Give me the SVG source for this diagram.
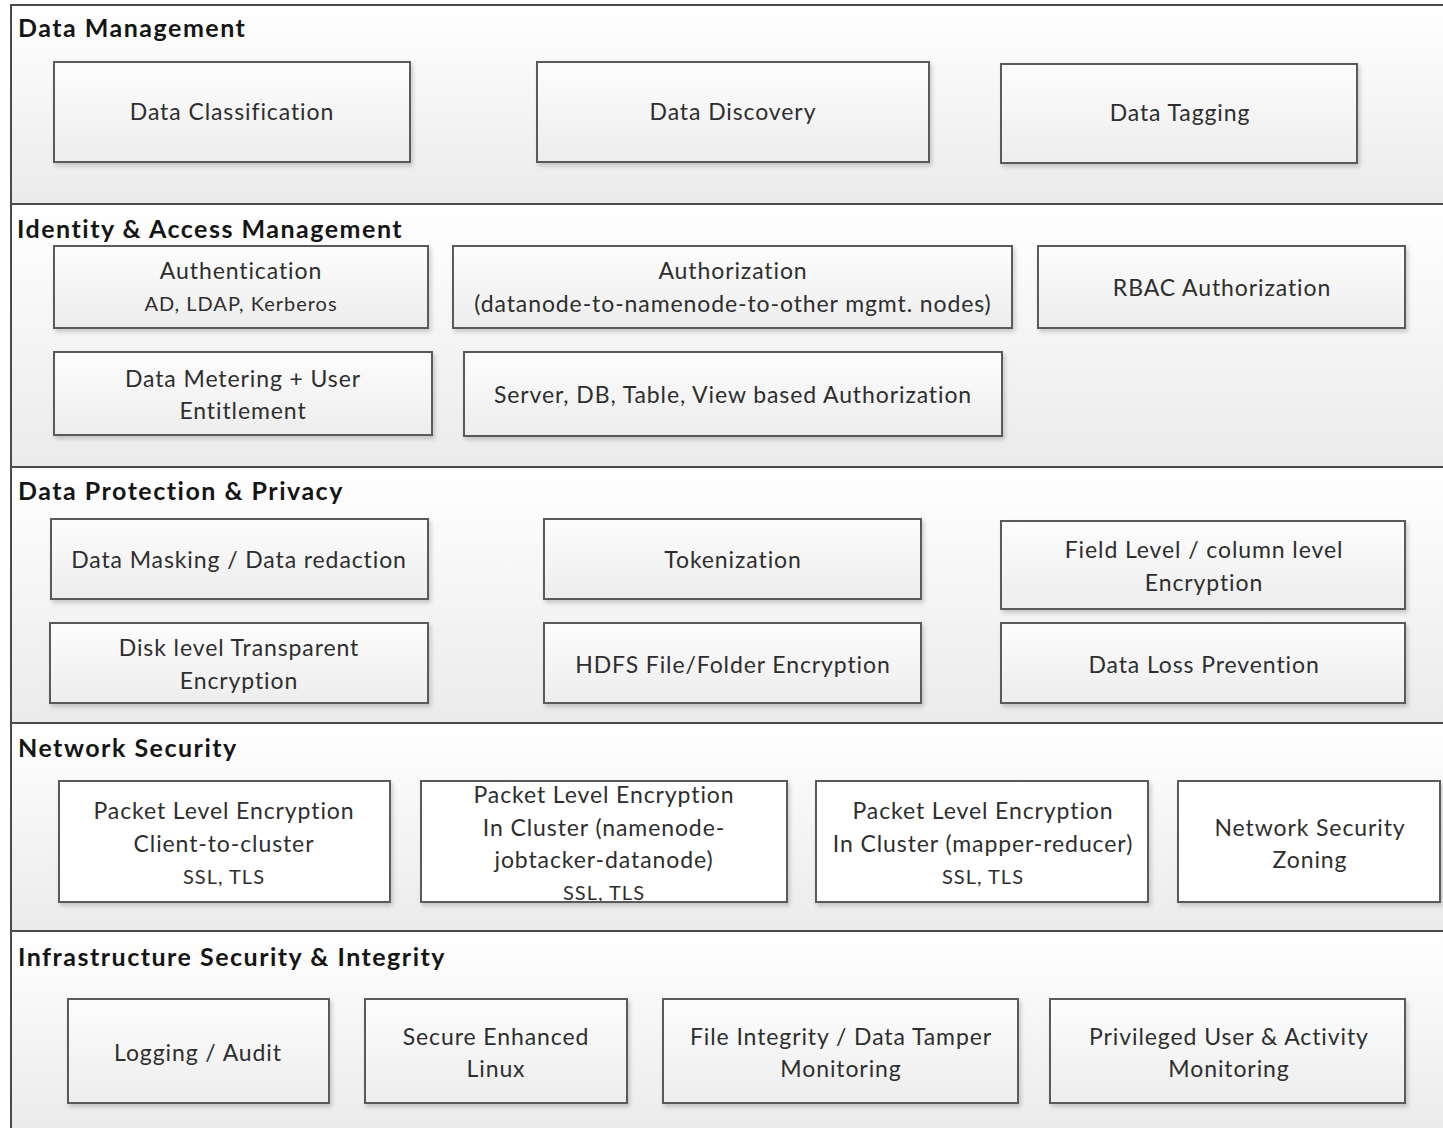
<svg xmlns="http://www.w3.org/2000/svg" width="1443" height="1128" viewBox="0 0 1443 1128">
<defs>
<linearGradient id="sec" x1="0" y1="0" x2="0" y2="1">
<stop offset="0" stop-color="#ffffff"/>
<stop offset="1" stop-color="#ebebeb"/>
</linearGradient>
<linearGradient id="box" x1="0" y1="0" x2="0" y2="1">
<stop offset="0" stop-color="#fdfdfd"/>
<stop offset="1" stop-color="#ededed"/>
</linearGradient>
<filter id="sh" x="-5%" y="-10%" width="115%" height="130%">
<feDropShadow dx="2" dy="3" stdDeviation="2" flood-color="#000" flood-opacity="0.18"/>
</filter>
<clipPath id="c4"><rect x="421" y="781" width="366" height="121"/></clipPath>
</defs>
<style>
.sec{fill:url(#sec);stroke:none}
.div{stroke:#4a4a4a;stroke-width:2;fill:none}
.b{fill:url(#box);stroke:#5a5a5a;stroke-width:2;filter:url(#sh)}
.w{fill:#ffffff;stroke:#5a5a5a;stroke-width:2;filter:url(#sh)}
.h{font-family:Lato,"Open Sans",sans-serif;font-weight:bold;font-size:25px;letter-spacing:1.5px;fill:#151515}
.t{font-family:Lato,"Open Sans",sans-serif;font-size:23px;letter-spacing:0.9px;fill:#2e2e2e;text-anchor:middle}
.s{font-family:Lato,"Open Sans",sans-serif;font-size:20px;letter-spacing:1px;fill:#2e2e2e;text-anchor:middle}
</style>
<rect width="1443" height="1128" fill="#ffffff"/>
<g id="sections">
<rect class="sec" x="11" y="5" width="1440" height="199"/>
<rect class="sec" x="11" y="204" width="1440" height="263"/>
<rect class="sec" x="11" y="467" width="1440" height="256"/>
<rect class="sec" x="11" y="723" width="1440" height="208"/>
<rect class="sec" x="11" y="931" width="1440" height="200"/>
<path class="div" d="M11,1130 V5 H1445 M11,204 H1445 M11,467 H1445 M11,723 H1445 M11,931 H1445"/>
<text class="h" x="18" y="37">Data Management</text>
<text class="h" x="17" y="238">Identity &amp; Access Management</text>
<text class="h" x="18" y="500">Data Protection &amp; Privacy</text>
<text class="h" x="18" y="757">Network Security</text>
<text class="h" x="18" y="966">Infrastructure Security &amp; Integrity</text>
</g>
<g id="connectors"></g>

<g id="n-data-classification"><rect class="b" x="54" y="62" width="356" height="100"/><text class="t" x="232" y="120">Data Classification</text></g>
<g id="n-data-discovery"><rect class="b" x="537" y="62" width="392" height="100"/><text class="t" x="733" y="120">Data Discovery</text></g>
<g id="n-data-tagging"><rect class="b" x="1001" y="64" width="356" height="99"/><text class="t" x="1180" y="121">Data Tagging</text></g>

<g id="n-authentication"><rect class="b" x="54" y="246" width="374" height="82"/><text class="t" x="241" y="279">Authentication</text><text class="s" x="241" y="311">AD, LDAP, Kerberos</text></g>
<g id="n-authorization"><rect class="b" x="453" y="246" width="559" height="82"/><text class="t" x="733" y="279">Authorization</text><text class="t" x="733" y="312">(datanode-to-namenode-to-other mgmt. nodes)</text></g>
<g id="n-rbac"><rect class="b" x="1038" y="246" width="367" height="82"/><text class="t" x="1222" y="296">RBAC Authorization</text></g>
<g id="n-metering"><rect class="b" x="54" y="352" width="378" height="83"/><text class="t" x="243" y="387">Data Metering + User</text><text class="t" x="243" y="419">Entitlement</text></g>
<g id="n-server-db"><rect class="b" x="464" y="352" width="538" height="84"/><text class="t" x="733" y="403">Server, DB, Table, View based Authorization</text></g>

<g id="n-masking"><rect class="b" x="51" y="519" width="377" height="80"/><text class="t" x="239" y="568">Data Masking / Data redaction</text></g>
<g id="n-tokenization"><rect class="b" x="544" y="519" width="377" height="80"/><text class="t" x="733" y="568">Tokenization</text></g>
<g id="n-field-level"><rect class="b" x="1001" y="521" width="404" height="88"/><text class="t" x="1204" y="558">Field Level / column level</text><text class="t" x="1204" y="591">Encryption</text></g>
<g id="n-disk-level"><rect class="b" x="50" y="623" width="378" height="80"/><text class="t" x="239" y="656">Disk level Transparent</text><text class="t" x="239" y="689">Encryption</text></g>
<g id="n-hdfs"><rect class="b" x="544" y="623" width="377" height="80"/><text class="t" x="733" y="673">HDFS File/Folder Encryption</text></g>
<g id="n-dlp"><rect class="b" x="1001" y="623" width="404" height="80"/><text class="t" x="1204" y="673">Data Loss Prevention</text></g>

<g id="n-packet-client"><rect class="w" x="59" y="781" width="331" height="121"/><text class="t" x="224" y="819">Packet Level Encryption</text><text class="t" x="224" y="852">Client-to-cluster</text><text class="s" x="224" y="884">SSL, TLS</text></g>
<g id="n-packet-namenode"><rect class="w" x="421" y="781" width="366" height="121"/><g clip-path="url(#c4)"><text class="t" x="604" y="803">Packet Level Encryption</text><text class="t" x="604" y="836">In Cluster (namenode-</text><text class="t" x="604" y="868">jobtacker-datanode)</text><text class="s" x="604" y="900">SSL, TLS</text></g><rect x="421" y="781" width="366" height="121" fill="none" stroke="#5a5a5a" stroke-width="2"/></g>
<g id="n-packet-mapper"><rect class="w" x="816" y="781" width="332" height="121"/><text class="t" x="983" y="819">Packet Level Encryption</text><text class="t" x="983" y="852">In Cluster (mapper-reducer)</text><text class="s" x="983" y="884">SSL, TLS</text></g>
<g id="n-zoning"><rect class="w" x="1178" y="781" width="262" height="121"/><text class="t" x="1310" y="836">Network Security</text><text class="t" x="1310" y="868">Zoning</text></g>

<g id="n-logging"><rect class="b" x="68" y="999" width="261" height="104"/><text class="t" x="198" y="1061">Logging / Audit</text></g>
<g id="n-selinux"><rect class="b" x="365" y="999" width="262" height="104"/><text class="t" x="496" y="1045">Secure Enhanced</text><text class="t" x="496" y="1077">Linux</text></g>
<g id="n-file-integrity"><rect class="b" x="663" y="999" width="355" height="104"/><text class="t" x="841" y="1045">File Integrity / Data Tamper</text><text class="t" x="841" y="1077">Monitoring</text></g>
<g id="n-privileged"><rect class="b" x="1050" y="999" width="355" height="104"/><text class="t" x="1229" y="1045">Privileged User &amp; Activity</text><text class="t" x="1229" y="1077">Monitoring</text></g>
</svg>
